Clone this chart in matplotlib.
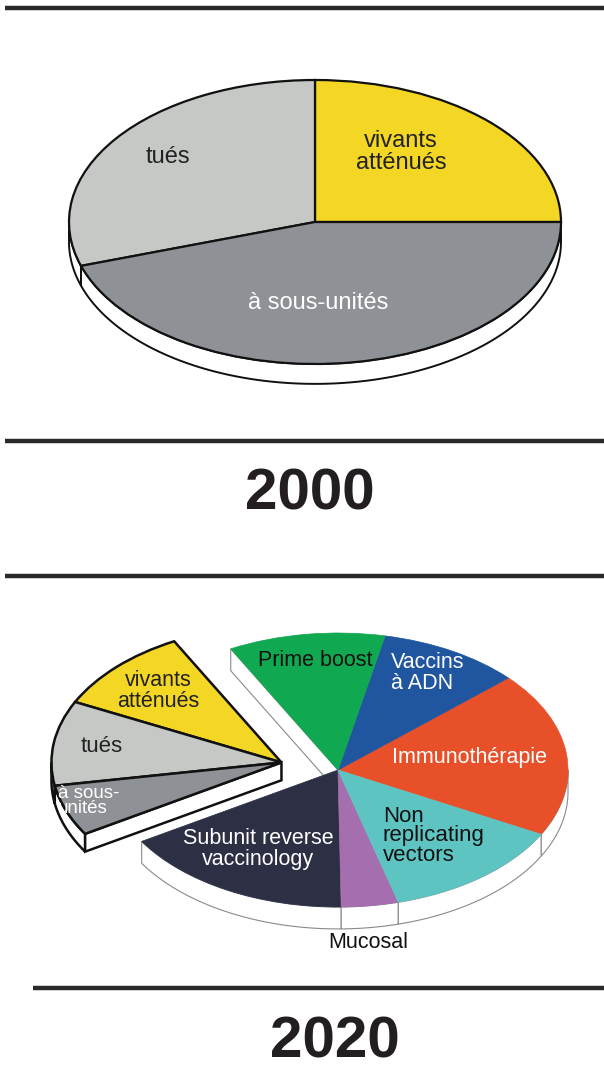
import numpy as np
import matplotlib.pyplot as plt
from matplotlib.patches import Wedge, Polygon

plt.rcParams['font.family'] = ['Liberation Sans', 'DejaVu Sans']

# 2000 : vaccine types (share of the pie, %)
cats_2000 = ["vivants\natténués", "tués", "à sous-unités"]
shares_2000 = [25, 30, 45]
colors_2000 = ["#F4D625", "#C5C8C5", "#8E9195"]

# 2020 : same order, counter-clockwise; the old types are pulled out
cats_2020 = ["Immunothérapie", "Vaccins à ADN", "Prime boost",
             "vivants atténués", "tués", "à sous-unités",
             "Subunit reverse vaccinology", "Mucosal", "Non replicating vectors"]
shares_2020 = [19.5, 10, 11, 10, 10, 6, 16.5, 4, 13]
old_2020 = [False, False, False, True, True, True, False, False, False]
colors_2020 = ["#E8502A", "#2055A0", "#10A850",
               "#F4D625", "#C5C8C5", "#8E9195",
               "#2D3045", "#A56EAE", "#5EC4C2"]

years = ["2000", "2020"]

W, H = 604, 1067
fig = plt.figure(figsize=(W / 100, H / 100), dpi=100)


def pie_axes(cx, cy, a, b):
    # axes where the unit circle is the ellipse (cx, cy, a, b) in pixels
    ax = fig.add_axes([0, 0, 1, 1])
    ax.set_xlim(-cx / a, (W - cx) / a)
    ax.set_ylim(-(H - cy) / b, cy / b)
    ax.axis("off")
    return ax


def rim(ax, t1, t2, ox, oy, d, ec, lw, z):
    # visible (front) part of the side of a wedge
    for base in (-180, 180, 540):
        lo, hi = max(t1, base), min(t2, base + 180)
        if hi <= lo:
            continue
        t = np.radians(np.linspace(lo, hi, 80))
        x = ox + np.cos(t)
        y = oy + np.sin(t)
        pts = np.column_stack([np.r_[x, x[::-1]], np.r_[y, y[::-1] - d]])
        ax.add_patch(Polygon(pts, closed=True, fc="white", ec=ec, lw=lw, zorder=z))


def cut(ax, t, ox, oy, d, ec, lw, z):
    # radial side face of a wedge
    c, s = np.cos(np.radians(t)), np.sin(np.radians(t))
    pts = [(ox, oy), (ox + c, oy + s), (ox + c, oy + s - d), (ox, oy - d)]
    ax.add_patch(Polygon(pts, closed=True, fc="white", ec=ec, lw=lw, zorder=z))


# ---------- 2000 ----------
ax1 = pie_axes(315, 222, 246, 142)
d1 = 0.14
edges = np.r_[0, np.cumsum(shares_2000)] * 3.6
for i in range(len(shares_2000)):
    rim(ax1, edges[i], edges[i + 1], 0, 0, d1, "#111111", 1.4, 1)
for i, c in enumerate(colors_2000):
    ax1.add_patch(Wedge((0, 0), 1, edges[i], edges[i + 1], fc=c,
                        ec="#111111", lw=1.6, zorder=3))

# ---------- 2020 ----------
ax2 = pie_axes(338, 770, 230, 137)
d2 = 0.16
d3 = 0.13
start = -28
edges = start + np.r_[0, np.cumsum(shares_2020)] * 3.6
old_idx = [i for i, o in enumerate(old_2020) if o]
g1, g2 = edges[old_idx[0]], edges[old_idx[-1] + 1]
mid = np.radians((g1 + g2) / 2)
ex, ey = 0.255 * np.cos(mid), 0.055

# main pie: side first, then tops
for i, o in enumerate(old_2020):
    if not o:
        rim(ax2, edges[i], edges[i + 1], 0, 0, d2, "#8a8a8a", 0.8, 1)
cut(ax2, g1, 0, 0, d2, "#8a8a8a", 0.8, 1)
for i, o in enumerate(old_2020):
    if not o:
        ax2.add_patch(Wedge((0, 0), 1, edges[i], edges[i + 1],
                            fc=colors_2020[i], ec=colors_2020[i], lw=0.5, zorder=3))

# pulled-out wedge of the older vaccines
for i in old_idx:
    rim(ax2, edges[i], edges[i + 1], ex, ey, d3, "#111111", 1.8, 4)
cut(ax2, g2, ex, ey, d3, "#111111", 1.8, 4)
for i in old_idx:
    ax2.add_patch(Wedge((ex, ey), 1, edges[i], edges[i + 1], fc=colors_2020[i],
                        ec="#111111", lw=1.8, zorder=5))

# pixel axes for lines and text, on top of the pies
pix = fig.add_axes([0, 0, 1, 1])
pix.set_xlim(0, W)
pix.set_ylim(H, 0)
pix.axis("off")

pix.text(401, 152, cats_2000[0], ha="center", va="center", fontsize=17,
         color="#222222", linespacing=1.0)
pix.text(168, 157, cats_2000[1], ha="center", va="center", fontsize=17,
         color="#222222")
pix.text(318, 303, cats_2000[2], ha="center", va="center", fontsize=17,
         color="white")

fs = 15.5
pix.text(315, 660, "Prime boost", ha="center", va="center", fontsize=fs, color="#111111")
pix.text(391, 673, "Vaccins\nà ADN", ha="left", va="center", fontsize=fs,
         color="white", linespacing=0.95)
pix.text(470, 758, "Immunothérapie", ha="center", va="center", fontsize=fs, color="white")
pix.text(383, 836, "Non\nreplicating\nvectors", ha="left", va="center", fontsize=16,
         color="#111111", linespacing=0.92)
pix.text(258, 849, "Subunit reverse\nvaccinology", ha="center", va="center",
         fontsize=fs, color="white", linespacing=1.0)
pix.text(368, 942, "Mucosal", ha="center", va="center", fontsize=15.5, color="#111111")
pix.text(158, 691, "vivants\natténués", ha="center", va="center", fontsize=fs,
         color="#222222", linespacing=0.95)
pix.text(102, 747, "tués", ha="center", va="center", fontsize=16, color="#222222")
pix.text(58, 801, "à sous-\nunités", ha="left", va="center", fontsize=13.5,
         color="white", linespacing=0.85)

# ---------- rules and years ----------
for x0, y in [(5, 8), (5, 441), (5, 576), (33, 988)]:
    pix.plot([x0, W], [y, y], color="#2a2a2a", lw=3.2, solid_capstyle="butt")

pix.text(310, 494, years[0], ha="center", va="center", fontsize=42,
         fontweight="bold", color="#231f20")
pix.text(335, 1042, years[1], ha="center", va="center", fontsize=42,
         fontweight="bold", color="#231f20")

fig.savefig("out.png", dpi=100)
